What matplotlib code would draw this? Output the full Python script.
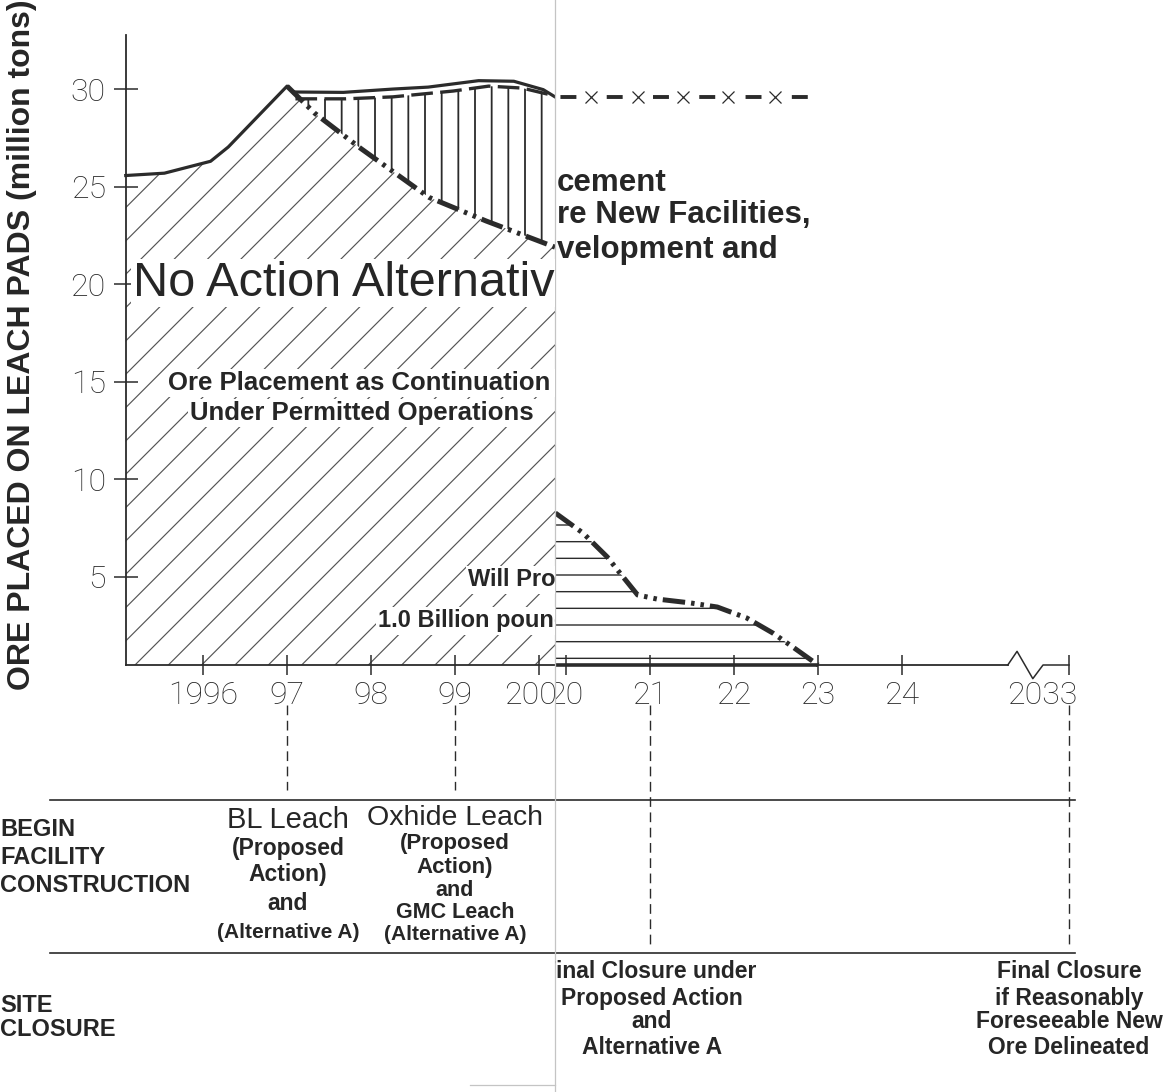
import numpy as np
import matplotlib
matplotlib.use("Agg")
import matplotlib.pyplot as plt
from matplotlib.lines import Line2D
from matplotlib.transforms import (Bbox, TransformedBbox, ScaledTranslation,
                                   blended_transform_factory)

# ---------------------------------------------------------------
#  Data (million tons of ore)
# ---------------------------------------------------------------
# left page, 1995 - 2000
TOTAL_YEARS = [1995.08, 1995.54, 1996.09, 1996.30, 1997.00, 1997.07, 1997.67,
               1998.26, 1998.68, 1999.28, 1999.70, 2000.05, 2000.19]
TOTAL_ORE = [25.57, 25.69, 26.30, 27.03, 30.15, 29.85, 29.83,
             30.00, 30.10, 30.43, 30.40, 29.97, 29.60]

PROPOSED_YEARS = [1997.10, 1997.70, 1998.26, 1998.98, 1999.40, 1999.80, 2000.19]
PROPOSED_ORE = [29.50, 29.50, 29.60, 29.90, 30.15, 30.05, 29.65]

NO_ACTION_YEARS = [1997.00, 1997.33, 1997.88, 1998.69, 1999.37, 2000.19]
NO_ACTION_ORE = [30.15, 28.76, 26.95, 24.45, 23.24, 21.90]

# right page, 2020 - 2033
CLOSURE_YEARS = [2019.87, 2020.20, 2020.49, 2020.64, 2020.85, 2021.08,
                 2021.48, 2021.80, 2022.15, 2022.46, 2022.70, 2023.00]
CLOSURE_ORE = [8.28, 7.25, 6.02, 5.20, 4.08, 3.87, 3.67, 3.46, 2.90, 2.13, 1.41, 0.49]

FUTURE_YEARS = [2019.87, 2022.95]
FUTURE_ORE = [29.6, 29.6]
FUTURE_MARK_YEARS = [2020.29, 2020.85, 2021.39, 2021.93, 2022.49]
FUTURE_MARK_ORE = [29.6, 29.6, 29.6, 29.6, 29.6]

Y_TICKS = [5, 10, 15, 20, 25, 30]
X_TICKS = [1996, 1997, 1998, 1999, 2000, 2020, 2021, 2022, 2023, 2024, 2033]
X_LABELS = ["1996", "97", "98", "99", "2000", "20", "21", "22", "23", "24", "2033"]

EVENT_YEARS = [1997, 1999, 2021, 2033]

# scale: the scan glues two pages together, and 2024-2033 is compressed
YEAR_KNOTS = [1995.0, 2000.19, 2019.87, 2024.0, 2033.0]
SCALE_KNOTS = [119.0, 555.0, 555.3, 902.0, 1069.0]

W, H = 1169, 1092
INK = "#2b2b2b"
TXT = "#262626"
SANS = ["Liberation Sans", "DejaVu Sans"]
THIN = ["Roboto", "Lato", "DejaVu Sans"]

plt.rcParams["hatch.linewidth"] = 0.85


def fx(px):
    return px / W


def fy(py):
    return 1 - py / H


fig = plt.figure(figsize=(W / 100, H / 100), dpi=100)
fig.patch.set_facecolor("white")

LEFT_PAGE = TransformedBbox(Bbox.from_extents(0, 0, fx(555), 1), fig.transFigure)
RIGHT_PAGE = TransformedBbox(Bbox.from_extents(fx(555), 0, 1, 1), fig.transFigure)


def on_page(artists, box):
    if not isinstance(artists, (list, tuple)):
        artists = [artists]
    for a in artists:
        a.set_clip_on(True)
        a.set_clip_box(box)
    return artists


ax = fig.add_axes([fx(126), fy(665), fx(1069) - fx(126), fy(35) - fy(665)])
ax.set_xscale("function", functions=(lambda x: np.interp(x, YEAR_KNOTS, SCALE_KNOTS),
                                     lambda p: np.interp(p, SCALE_KNOTS, YEAR_KNOTS)))
ax.set_xlim(1995.083, 2033)
ax.set_ylim(0.49, 32.77)
y0 = ax.get_ylim()[0]

# ── left page: hatched areas ─────────────────────────────
env_x = TOTAL_YEARS[:5] + NO_ACTION_YEARS[1:]
env_y = TOTAL_ORE[:5] + NO_ACTION_ORE[1:]
fb = ax.fill_between(env_x, env_y, y0, facecolor="none", edgecolor="#555555",
                     hatch="/", linewidth=0)
on_page(fb, LEFT_PAGE)

poly_x = [TOTAL_YEARS[4]] + PROPOSED_YEARS + NO_ACTION_YEARS[::-1]
poly_y = [TOTAL_ORE[4]] + PROPOSED_ORE + NO_ACTION_ORE[::-1]
plt.rcParams["hatch.linewidth"] = 1.3
vp = ax.fill(poly_x, poly_y, facecolor="none", edgecolor=INK, hatch="|", linewidth=0)
on_page(vp, LEFT_PAGE)

# ── left page: curves ───────────────────────────────────
on_page(ax.plot(TOTAL_YEARS, TOTAL_ORE, color=INK, lw=2.3, solid_joinstyle="round"), LEFT_PAGE)
on_page(ax.plot(PROPOSED_YEARS, PROPOSED_ORE, color=INK, lw=2.4,
                linestyle=(0, (6.5, 2.2))), LEFT_PAGE)
on_page(ax.plot(NO_ACTION_YEARS, NO_ACTION_ORE, color=INK, lw=3.6,
                linestyle=(0, (4.5, 1.2, 0.7, 1.2, 0.7, 1.2))), LEFT_PAGE)

# ── right page: closure curve and future ore ────────────
plt.rcParams["hatch.linewidth"] = 1.0
hp = ax.fill_between(CLOSURE_YEARS, CLOSURE_ORE, y0, facecolor="none", edgecolor=INK,
                     hatch="-", linewidth=0)
on_page(hp, RIGHT_PAGE)
on_page(ax.plot(CLOSURE_YEARS, CLOSURE_ORE, color=INK, lw=3.6,
                linestyle=(0, (4.5, 1.2, 0.7, 1.2, 0.7, 1.2))), RIGHT_PAGE)
on_page(ax.plot([CLOSURE_YEARS[0], CLOSURE_YEARS[-1]], [y0, y0], color=INK, lw=2.6,
                solid_capstyle="butt"), RIGHT_PAGE)

on_page(ax.plot(FUTURE_YEARS, FUTURE_ORE, color=INK, lw=2.8,
                linestyle=(10.5, (4.1, 7.8))), RIGHT_PAGE)
on_page(ax.plot(FUTURE_MARK_YEARS, FUTURE_MARK_ORE, linestyle="none", marker="x",
                markersize=9, markeredgewidth=0.9, color=INK), RIGHT_PAGE)

# ── axes frame ──────────────────────────────────────────
for side in ("top", "right", "bottom"):
    ax.spines[side].set_visible(False)
ax.spines["left"].set_color(INK)
ax.spines["left"].set_linewidth(1.3)
ax.patch.set_visible(False)

# baseline with a break before 2033
ax.plot([1995.083, 2029.7], [y0, y0], color=INK, lw=1.3, clip_on=False)
ax.plot([2029.7, 2030.2, 2031.05, 2031.6, 2033], [y0, y0 + 0.7, y0 - 0.7, y0, y0],
        color=INK, lw=1.1, clip_on=False)

ax.set_yticks(Y_TICKS)
ax.set_yticklabels([str(v) for v in Y_TICKS], family=THIN, fontweight="light",
                   fontsize=23, color=TXT)
ax.tick_params(axis="y", direction="inout", length=17, width=1.1, color=INK, pad=6)
ax.set_xticks(X_TICKS)
ax.set_xticklabels(X_LABELS, family=THIN, fontweight="light", fontsize=23, color=TXT)
ax.tick_params(axis="x", direction="inout", length=15, width=1.1, color=INK, pad=4)
ax.minorticks_off()
for tick in ax.xaxis.get_major_ticks():
    box = LEFT_PAGE if tick.get_loc() < 2010 else RIGHT_PAGE
    on_page([tick.label1, tick.tick1line], box)
    if tick.get_loc() > 2030:
        # the scan prints "2033" a little left of its tick
        tick.label1.set_transform(tick.label1.get_transform()
                                  + ScaledTranslation(-0.27, 0, fig.dpi_scale_trans))

fig.text(fx(22), fy(345), "ORE PLACED ON LEACH PADS (million tons)", rotation=90,
         ha="center", va="center", family=SANS, fontweight="bold", fontsize=23,
         color=TXT)

# ── annotations inside the chart ────────────────────────
white = dict(facecolor="white", edgecolor="none", pad=1.5)
t = fig.text(fx(133), fy(283), "No Action Alternative", ha="left", va="center",
             family=SANS, fontsize=35, color=TXT, bbox=white)
on_page(t, LEFT_PAGE)

left_notes = [("Ore Placement as Continuation of", 168, 383, 18.5),
              ("Under Permitted Operations", 190, 413, 18.5),
              ("Will Produce", 468, 580, 17),
              ("1.0 Billion pounds", 378, 621, 17)]
for s, px, py, size in left_notes:
    t = fig.text(fx(px), fy(py), s, ha="left", va="center", family=SANS,
                 fontweight="bold", fontsize=size, color=TXT, bbox=white)
    on_page(t, LEFT_PAGE)

# right page continues the sentence; its first letters fall in the gutter
right_notes = [("cement", 183), ("re New Facilities,", 215), ("velopment and", 250)]
for s, py in right_notes:
    t = fig.text(fx(557), fy(py), s, ha="left", va="center", family=SANS,
                 fontweight="bold", fontsize=22.5, color=TXT)
    on_page(t, RIGHT_PAGE)

# ── timeline below the chart ───────────────────────────
ev_tr = blended_transform_factory(ax.transData, fig.transFigure)
for yr in EVENT_YEARS:
    bottom = 790 if yr < 2010 else 948
    ln = Line2D([yr, yr], [fy(705), fy(bottom)], transform=ev_tr, color=INK, lw=1.0,
                linestyle=(0, (7, 4)))
    fig.add_artist(ln)

for py in (800, 953):
    fig.add_artist(Line2D([fx(50), fx(1075)], [fy(py), fy(py)], color=INK, lw=1.2))

# seam of the two scanned pages
fig.add_artist(Line2D([fx(555), fx(555)], [0, 1], color="#c4c4c4", lw=0.9))
fig.add_artist(Line2D([fx(470), fx(555)], [fy(1085), fy(1085)], color="#c4c4c4", lw=0.9))

ROW_LABELS = [("BEGIN", 830), ("FACILITY", 858), ("CONSTRUCTION", 885),
              ("SITE", 1005), ("CLOSURE", 1030)]
for s, py in ROW_LABELS:
    fig.text(fx(0), fy(py), s, ha="left", va="center", family=SANS,
             fontweight="bold", fontsize=17, color=TXT)

BL_LINES = [("BL Leach", 820, 21), ("(Proposed", 848, 16.5), ("Action)", 874, 16.5),
            ("and", 903, 16.5), ("(Alternative A)", 932, 15)]
OX_LINES = [("Oxhide Leach", 818, 20.5), ("(Proposed", 843, 16), ("Action)", 868, 16),
            ("and", 891, 15.5), ("GMC Leach", 912, 15.5), ("(Alternative A)", 934, 15)]
for lines, px in ((BL_LINES, 288), (OX_LINES, 455)):
    for s, py, size in lines:
        big = size > 20
        t = fig.text(fx(px), fy(py), s, ha="center", va="center", family=SANS,
                     fontweight="normal" if big else "bold", fontsize=size, color=TXT)
        on_page(t, LEFT_PAGE)

CLOSE_A = [("Final Closure under", 649), ("Proposed Action", 652), ("and", 652),
           ("Alternative A", 652)]
CLOSE_B = [("Final Closure", 1069), ("if Reasonably", 1069), ("Foreseeable New", 1069),
           ("Ore Delineated", 1069)]
for lines in (CLOSE_A, CLOSE_B):
    for (s, px), py in zip(lines, (972, 998, 1022, 1047)):
        t = fig.text(fx(px), fy(py), s, ha="center", va="center", family=SANS,
                     fontweight="bold", fontsize=16.5, color=TXT)
        on_page(t, RIGHT_PAGE)

fig.savefig("out.png", dpi=100, facecolor="white")
